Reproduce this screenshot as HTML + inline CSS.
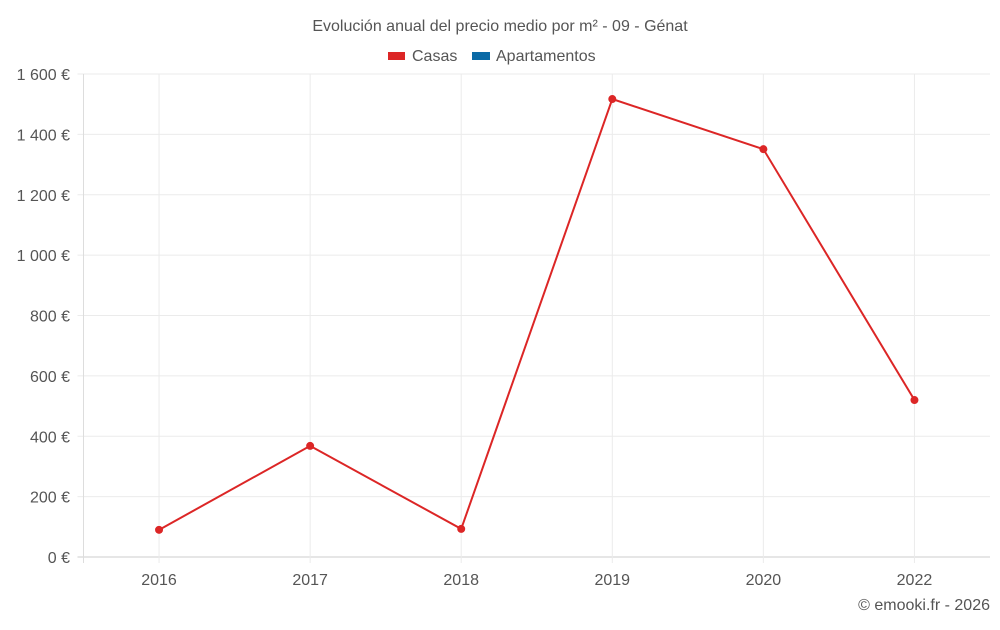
<!DOCTYPE html>
<html><head><meta charset="utf-8"><style>
body{margin:0;background:#fff;font-family:"Liberation Sans",sans-serif}
</style></head><body>
<svg id="c" width="1000" height="625" viewBox="0 0 1000 625" font-family="Liberation Sans, sans-serif">
<text x="500" y="31" text-anchor="middle" font-size="16" fill="#555">Evolución anual del precio medio por m² - 09 - Génat</text>
<g>
<g><rect x="388" y="52" width="17" height="8" fill="#dc2626"/><text x="412" y="61" font-size="16" fill="#555">Casas</text></g>
<g><rect x="472" y="52" width="18" height="8" fill="#0a6aa6"/><text x="496" y="61" font-size="16" fill="#555">Apartamentos</text></g>
</g>
<g id="grid"></g>
<g id="axes"></g>
<g id="series"></g>
<text x="990" y="610" text-anchor="end" font-size="16" fill="#555">© emooki.fr - 2026</text>
</svg>
<script>
const categories=["2016","2017","2018","2019","2020","2022"];
const casas=[90,368,93,1517,1351,520];
const yTicks=[0,200,400,600,800,1000,1200,1400,1600];
const yTickLabels=["0 €","200 €","400 €","600 €","800 €","1 000 €","1 200 €","1 400 €","1 600 €"];
const L=83.5,R=990,T=74,B=557,yMax=1600;
const bw=(R-L)/categories.length;
const x=i=>L+bw*(i+0.5);
const y=v=>B-(v/yMax)*(B-T);
const NS="http://www.w3.org/2000/svg";
function mk(t,a,p){const e=document.createElementNS(NS,t);for(const k in a)e.setAttribute(k,a[k]);p.appendChild(e);return e;}
const g=document.getElementById('grid'),ax=document.getElementById('axes'),s=document.getElementById('series');
yTicks.forEach((v,i)=>{
 const l=mk('line',{x1:L-6,x2:R,y1:y(v),y2:y(v),stroke:v===0?'#ccc':'#ebebeb','stroke-width':1},g);
 
 
 const t=mk('text',{x:70,y:y(v)+6,'text-anchor':'end','font-size':16,fill:'#555'},ax);
 t.textContent=yTickLabels[i];
 
 
});
const a=mk('line',{x1:L,x2:L,y1:T,y2:B+6,stroke:'#ddd'},g);


categories.forEach((c,i)=>{
 const l=mk('line',{x1:x(i),x2:x(i),y1:T,y2:B+6,stroke:'#ebebeb'},g);
 
 
 const t=mk('text',{x:x(i),y:585,'text-anchor':'middle','font-size':16,fill:'#555'},ax);
 t.textContent=c;
 
 
});
const pl=mk('polyline',{points:casas.map((v,i)=>x(i)+','+y(v)).join(' '),fill:'none',stroke:'#dc2626','stroke-width':2},s);


casas.forEach((v,i)=>{
 const p=mk('circle',{cx:x(i),cy:y(v),r:4,fill:'#dc2626'},s);
 
 
});
</script>
</body></html>
